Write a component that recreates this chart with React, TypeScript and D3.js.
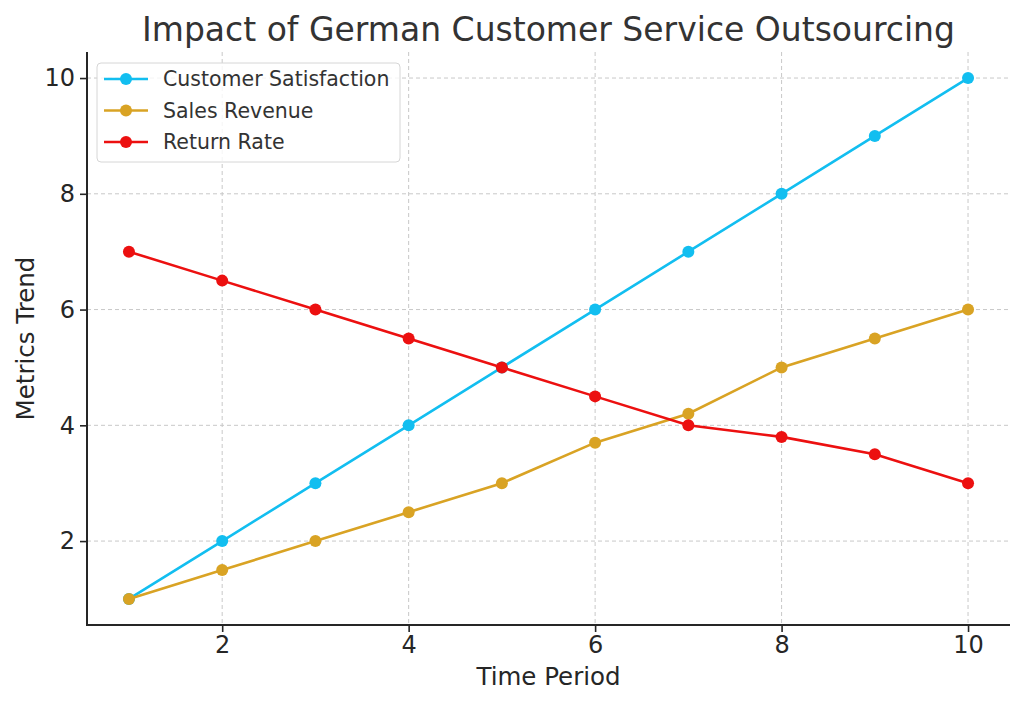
import { useEffect, useRef } from 'react';
import * as d3 from 'd3';

const periods = [1, 2, 3, 4, 5, 6, 7, 8, 9, 10];
const customerSatisfaction = [1, 2, 3, 4, 5, 6, 7, 8, 9, 10];
const salesRevenue = [1, 1.5, 2, 2.5, 3, 3.7, 4.2, 5, 5.5, 6];
const returnRate = [7, 6.5, 6, 5.5, 5, 4.5, 4, 3.8, 3.5, 3];
const xTicks = [2, 4, 6, 8, 10];
const yTicks = [2, 4, 6, 8, 10];

const seriesNames = ['Customer Satisfaction', 'Sales Revenue', 'Return Rate'];
const seriesColors = ['#12bef0', '#d9a324', '#ec1010'];

export default function App() {
  const svgRef = useRef<SVGSVGElement>(null);

  useEffect(() => {
    document.body.style.margin = '0';
    if (!svgRef.current) return;
    const svg = d3.select(svgRef.current);
    svg.selectAll('*').remove();

    const width = 1024;
    const height = 705;
    const margin = { top: 52, right: 14, bottom: 80, left: 87 };
    const font = 'DejaVu Sans, sans-serif';
    const textColor = '#262626';

    const x = d3.scaleLinear().domain([0.55, 10.45]).range([margin.left, width - margin.right]);
    const y = d3.scaleLinear().domain([0.55, 10.45]).range([height - margin.bottom, margin.top]);

    svg.append('rect').attr('width', width).attr('height', height).attr('fill', '#fff');

    // 그리드
    const grid = svg.append('g');
    grid.selectAll('.gx')
      .data(xTicks)
      .enter()
      .append('line')
      .attr('x1', (d) => x(d))
      .attr('x2', (d) => x(d))
      .attr('y1', margin.top)
      .attr('y2', height - margin.bottom)
      .attr('stroke', '#c8c8c8')
      .attr('stroke-width', 1)
      .attr('stroke-dasharray', '4,3');
    grid.selectAll('.gy')
      .data(yTicks)
      .enter()
      .append('line')
      .attr('x1', margin.left)
      .attr('x2', width - margin.right)
      .attr('y1', (d) => y(d))
      .attr('y2', (d) => y(d))
      .attr('stroke', '#c8c8c8')
      .attr('stroke-width', 1)
      .attr('stroke-dasharray', '4,3');

    // 축
    const xAxis = svg.append('g')
      .attr('transform', `translate(0,${height - margin.bottom})`)
      .call(d3.axisBottom(x).tickValues(xTicks).tickSize(7).tickPadding(4).tickFormat(d3.format('d')));
    const yAxis = svg.append('g')
      .attr('transform', `translate(${margin.left},0)`)
      .call(d3.axisLeft(y).tickValues(yTicks).tickSize(7).tickPadding(5).tickFormat(d3.format('d')));
    [xAxis, yAxis].forEach((ax) => {
      ax.select('.domain').remove();
      ax.selectAll('.tick line').attr('stroke', textColor).attr('stroke-width', 1.6);
      ax.selectAll('.tick text')
        .attr('fill', textColor)
        .style('font-family', font)
        .style('font-size', '24px');
    });

    // 스파인
    svg.append('path')
      .attr('d', `M${margin.left},${margin.top}V${height - margin.bottom}H${width - margin.right}`)
      .attr('fill', 'none')
      .attr('stroke', textColor)
      .attr('stroke-width', 2);

    // 라인
    const seriesData = [customerSatisfaction, salesRevenue, returnRate];
    const line = d3.line<number>()
      .x((_, i) => x(periods[i]))
      .y((d) => y(d));
    seriesData.forEach((vals, si) => {
      const g = svg.append('g');
      g.append('path')
        .attr('d', line(vals))
        .attr('fill', 'none')
        .attr('stroke', seriesColors[si])
        .attr('stroke-width', 2.6);
      g.selectAll('circle')
        .data(vals)
        .enter()
        .append('circle')
        .attr('cx', (_, i) => x(periods[i]))
        .attr('cy', (d) => y(d))
        .attr('r', 6)
        .attr('fill', seriesColors[si]);
    });

    // 범례
    const legend = svg.append('g').attr('transform', 'translate(97,63)');
    legend.append('rect')
      .attr('width', 303)
      .attr('height', 99)
      .attr('rx', 4)
      .attr('fill', 'rgba(255,255,255,0.8)')
      .attr('stroke', '#d6d6d6')
      .attr('stroke-width', 1);
    seriesNames.forEach((name, i) => {
      const cy = 16 + i * 31.5;
      legend.append('line')
        .attr('x1', 7).attr('x2', 51).attr('y1', cy).attr('y2', cy)
        .attr('stroke', seriesColors[i]).attr('stroke-width', 2.6);
      legend.append('circle')
        .attr('cx', 29).attr('cy', cy).attr('r', 6).attr('fill', seriesColors[i]);
      legend.append('text')
        .attr('x', 66).attr('y', cy)
        .attr('dy', '0.35em')
        .attr('fill', '#333')
        .style('font-family', font)
        .style('font-size', '20.5px')
        .text(name);
    });

    // 제목 / 축 레이블
    svg.append('text')
      .attr('x', (margin.left + width - margin.right) / 2)
      .attr('y', 41)
      .attr('text-anchor', 'middle')
      .attr('fill', '#333')
      .style('font-family', font)
      .style('font-size', '33px')
      .text('Impact of German Customer Service Outsourcing');
    svg.append('text')
      .attr('x', (margin.left + width - margin.right) / 2)
      .attr('y', 685)
      .attr('text-anchor', 'middle')
      .attr('fill', textColor)
      .style('font-family', font)
      .style('font-size', '24.5px')
      .text('Time Period');
    svg.append('text')
      .attr('transform', `translate(34,${(margin.top + height - margin.bottom) / 2}) rotate(-90)`)
      .attr('text-anchor', 'middle')
      .attr('fill', textColor)
      .style('font-family', font)
      .style('font-size', '24.5px')
      .text('Metrics Trend');
  }, []);

  return <svg ref={svgRef} width={1024} height={705} style={{ display: 'block' }}></svg>;
}
